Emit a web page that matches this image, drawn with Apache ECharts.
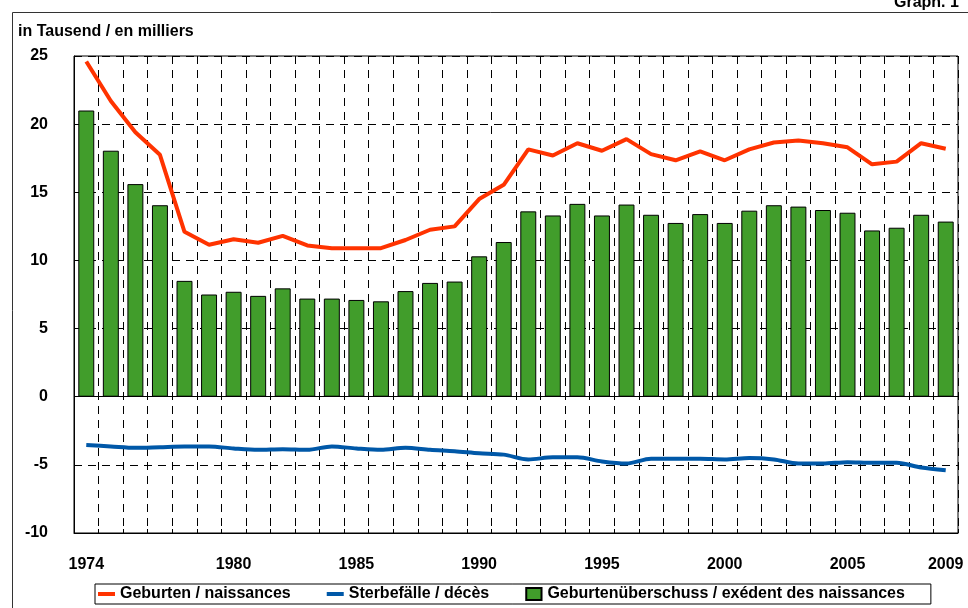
<!DOCTYPE html>
<html>
<head>
<meta charset="utf-8">
<script src="https://cdn.jsdelivr.net/npm/echarts@6/dist/echarts.min.js"></script>
<style>
  html, body { margin: 0; padding: 0; background: #fff; }
  #chart { width: 968px; height: 608px; }
</style>
</head>
<body>
<div id="chart"></div>
<script>
// Jahre 1974 - 2009
var years = [];
for (var y = 1974; y <= 2009; y++) years.push(String(y));

var shownYears = ['1974', '1980', '1985', '1990', '1995', '2000', '2005', '2009'];

// Geburten / naissances
var births = [24.6, 21.7, 19.4, 17.75, 12.1, 11.15, 11.55, 11.3, 11.8, 11.1, 10.9, 10.9,
              10.9, 11.5, 12.25, 12.5, 14.5, 15.55, 18.15, 17.7, 18.6, 18.05, 18.9, 17.8,
              17.35, 18.0, 17.35, 18.15, 18.65, 18.8, 18.6, 18.3, 17.05, 17.25, 18.6, 18.2];

// Sterbefälle / décès
var deaths = [-3.55, -3.65, -3.75, -3.7, -3.65, -3.65, -3.8, -3.9, -3.85, -3.9, -3.65, -3.8,
              -3.9, -3.75, -3.9, -4.0, -4.15, -4.25, -4.6, -4.45, -4.45, -4.75, -4.9, -4.55,
              -4.55, -4.55, -4.6, -4.5, -4.6, -4.9, -4.9, -4.8, -4.85, -4.85, -5.2, -5.4];

// Geburtenüberschuss / exédent des naissances
var surplus = [21.0, 18.05, 15.6, 14.05, 8.5, 7.5, 7.7, 7.4, 7.95, 7.2, 7.2, 7.1,
               7.0, 7.75, 8.35, 8.45, 10.3, 11.35, 13.6, 13.3, 14.15, 13.3, 14.1, 13.35,
               12.75, 13.4, 12.75, 13.65, 14.05, 13.95, 13.7, 13.5, 12.2, 12.4, 13.35, 12.85];

var font = "'Liberation Sans', Arial, sans-serif";

var chart = echarts.init(document.getElementById('chart'));

var option = {
    animation: false,
    backgroundColor: '#fff',
    textStyle: { fontFamily: font },
    title: {
        text: 'in Tausend / en milliers',
        left: 13,
        top: 19,
        textStyle: { fontFamily: font, fontSize: 16, fontWeight: 'bold', color: '#000' }
    },
    graphic: [
        {
            type: 'rect',
            shape: { x: 12.5, y: 12.5, width: 1000, height: 700 },
            style: { fill: 'none', stroke: '#333', lineWidth: 1 },
            silent: true
        },
        {
            type: 'text',
            left: 894,
            top: -5,
            style: { text: 'Graph. 1', font: 'bold 16px ' + font, fill: '#000' }
        }
    ],
    legend: {
        left: 95,
        top: 584,
        padding: [2, 26, 2, 3],
        itemGap: 36,
        itemWidth: 17,
        itemHeight: 12,
        borderColor: '#000',
        borderWidth: 1,
        textStyle: { fontFamily: font, fontSize: 16, fontWeight: 'bold', color: '#000' },
        data: [
            { name: 'Geburten / naissances', icon: 'path://M0,0H17V4H0Z', itemStyle: { borderWidth: 0 } },
            { name: 'Sterbefälle / décès', icon: 'path://M0,0H17V4H0Z', itemStyle: { borderWidth: 0 } },
            { name: 'Geburtenüberschuss / exédent des naissances', icon: 'path://M0,0H14V11H0Z' }
        ]
    },
    grid: {
        left: 74,
        right: 10,
        top: 56,
        bottom: 75,
        show: true,
        borderColor: '#000',
        borderWidth: 1
    },
    xAxis: {
        type: 'category',
        data: years,
        boundaryGap: true,
        axisLine: { onZero: false, lineStyle: { color: '#000' } },
        axisTick: { show: true, inside: true, length: 4, interval: 0, lineStyle: { color: '#000' } },
        axisLabel: {
            interval: function (index, value) { return shownYears.indexOf(value) >= 0; },
            margin: 24,
            fontFamily: font,
            fontSize: 16,
            fontWeight: 'bold',
            color: '#000'
        },
        splitLine: { show: true, interval: 0, lineStyle: { color: '#000', type: [8, 6], width: 1 } }
    },
    yAxis: {
        type: 'value',
        min: -10,
        max: 25,
        interval: 5,
        axisLine: { show: true, lineStyle: { color: '#000' } },
        axisTick: { show: true, inside: true, length: 5, lineStyle: { color: '#000' } },
        axisLabel: {
            margin: 26,
            fontFamily: font,
            fontSize: 16,
            fontWeight: 'bold',
            color: '#000'
        },
        splitLine: { show: true, lineStyle: { color: '#000', type: [8, 6], width: 1 } }
    },
    series: [
        {
            name: 'Geburtenüberschuss / exédent des naissances',
            type: 'bar',
            data: surplus,
            barWidth: '65%',
            itemStyle: { color: '#419D2B', borderColor: '#000', borderWidth: 1 },
            markLine: {
                silent: true,
                symbol: 'none',
                label: { show: false },
                lineStyle: { color: '#000', type: 'solid', width: 1 },
                data: [{ yAxis: 0 }]
            }
        },
        {
            name: 'Sterbefälle / décès',
            type: 'line',
            data: deaths,
            symbol: 'none',
            smooth: 0.3,
            itemStyle: { color: '#0058A8' },
            lineStyle: { color: '#0058A8', width: 4 }
        },
        {
            name: 'Geburten / naissances',
            type: 'line',
            data: births,
            symbol: 'none',
            itemStyle: { color: '#FF3300' },
            lineStyle: { color: '#FF3300', width: 4 }
        }
    ]
};

chart.setOption(option);
</script>
</body>
</html>
